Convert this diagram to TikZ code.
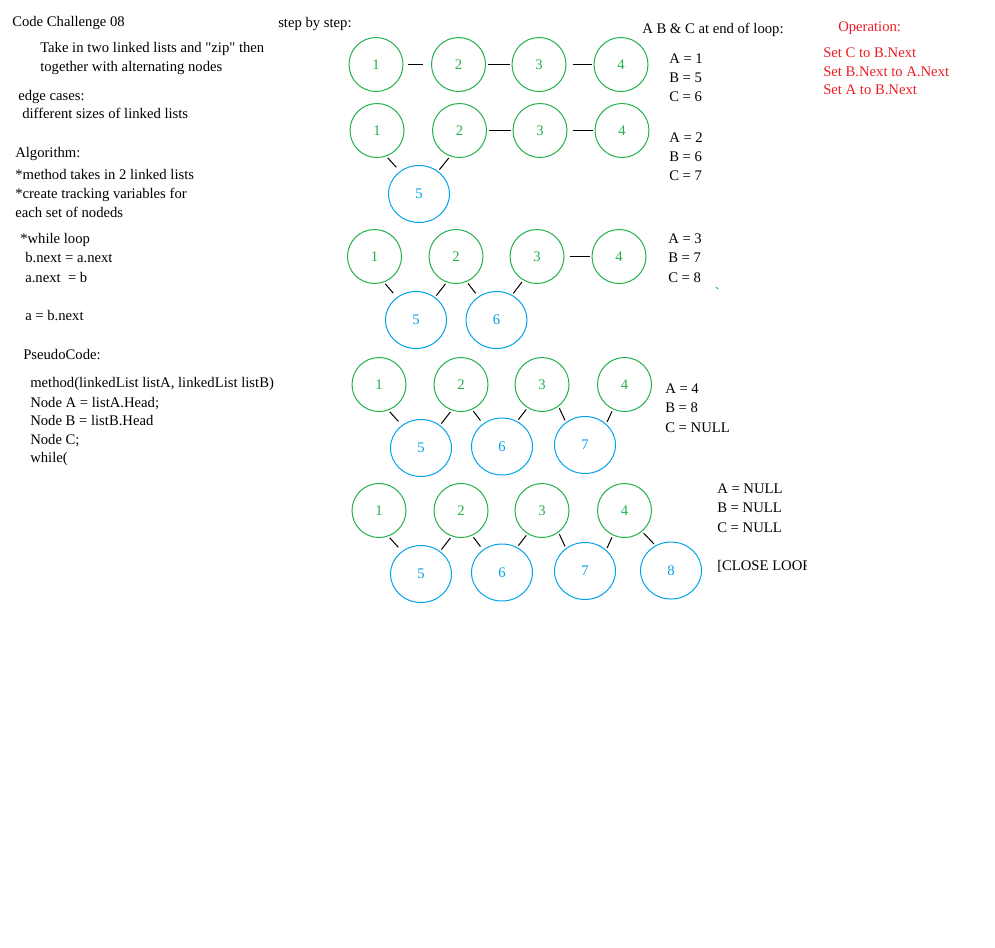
\documentclass[tikz,border=0pt]{standalone}
\usepackage{fontspec}
\setmainfont{Liberation Serif}[Ligatures=TeXOff]
\usetikzlibrary{shapes.geometric}
\definecolor{listgreen}{RGB}{34,177,76}
\definecolor{listblue}{RGB}{0,162,232}
\definecolor{opred}{RGB}{237,28,36}
\tikzset{
  anode/.style={circle, draw=listgreen, text=listgreen, minimum size=40.5pt, inner sep=0pt, line width=0.75pt},
  bnode/.style={ellipse, draw=listblue, text=listblue, minimum width=45.75pt, minimum height=42.75pt, inner sep=0pt, line width=0.75pt},
  link/.style={line width=0.75pt, shorten <=1.5pt, shorten >=1.5pt},
  note/.style={anchor=base west, inner sep=0pt},
  opnote/.style={note, text=opred},
}
\begin{document}
\begin{tikzpicture}[x=0.75pt, y=-0.75pt, font=\fontsize{11}{14.25}\selectfont]
  \useasboundingbox (0,0) rectangle (995,947);
  \fill[white] (0,0) rectangle (995,947);

  % notes on the left
  \node[note] (title) at (12,26) {Code Challenge 08};
  \node[note] (task1) at (40,52) {Take in two linked lists and "zip" then};
  \node[note] (task2) at (40,71) {together with alternating nodes};
  \node[note] (edge1) at (18,100) {edge cases:};
  \node[note] (edge2) at (22,118) {different sizes of linked lists};
  \node[note] (algo) at (15,157) {Algorithm:};
  \node[note] (algo1) at (15,179) {*method takes in 2 linked lists};
  \node[note] (algo2) at (15,198) {*create tracking variables for};
  \node[note] (algo3) at (15,217) {each set of nodeds};
  \node[note] (loop) at (20,243) {*while loop};
  \node[note] (loop1) at (25,262) {b.next = a.next};
  \node[note] (loop2) at (25,282) {a.next\ \ = b};
  \node[note] (loop3) at (25,320) {a = b.next};
  \node[note] (pseudo) at (23,359) {PseudoCode:};
  \node[note] (code1) at (30,387) {method(linkedList listA, linkedList listB)};
  \node[note] (code2) at (30,407) {Node A = listA.Head;};
  \node[note] (code3) at (30,425) {Node B = listB.Head};
  \node[note] (code4) at (30,444) {Node C;};
  \node[note] (code5) at (30,462) {while(};

  % headings
  \node[note] (steps) at (278,27) {step by step:};
  \node[note] (vars) at (642,33) {A B \& C at end of loop:};
  \node[opnote] (op) at (838,31) {Operation:};
  \node[opnote] (op1) at (823,57) {Set C to B.Next};
  \node[opnote] (op2) at (823,76) {Set B.Next to A.Next};
  \node[opnote] (op3) at (823,94) {Set A to B.Next};

  % step 1
  \node[anode] (r1n1) at (376,64.5) {1};
  \node[anode] (r1n2) at (458.5,64.5) {2};
  \node[anode] (r1n3) at (539,64.5) {3};
  \node[anode] (r1n4) at (621,64.5) {4};
  \draw[link, shorten <=3.5pt, shorten >=6pt] (r1n1) -- (r1n2);
  \draw[link] (r1n2) -- (r1n3);
  \draw[link, shorten <=4.5pt] (r1n3) -- (r1n4);
  \node[note] (v1a) at (669,63) {A = 1};
  \node[note] (v1b) at (669,82) {B = 5};
  \node[note] (v1c) at (669,101) {C = 6};

  % step 2
  \node[anode] (r2n1) at (377,130.5) {1};
  \node[anode] (r2n2) at (459.5,130.5) {2};
  \node[anode] (r2n3) at (540,130.5) {3};
  \node[anode] (r2n4) at (622,130.5) {4};
  \node[bnode] (r2n5) at (419,194) {5};
  \draw[link, shorten >=4pt] (r2n1.-70) -- (r2n5.130);
  \draw[link] (r2n2.-110) -- (r2n5.50);
  \draw[link] (r2n2) -- (r2n3);
  \draw[link, shorten <=4pt] (r2n3) -- (r2n4);
  \node[note] (v2a) at (669,142) {A = 2};
  \node[note] (v2b) at (669,161) {B = 6};
  \node[note] (v2c) at (669,180) {C = 7};

  % step 3
  \node[anode] (r3n1) at (374.5,256.5) {1};
  \node[anode] (r3n2) at (456,256.5) {2};
  \node[anode] (r3n3) at (537,256.5) {3};
  \node[anode] (r3n4) at (619,256.5) {4};
  \node[bnode] (r3n5) at (416,320) {5};
  \node[bnode] (r3n6) at (496.5,320) {6};
  \draw[link, shorten >=4pt] (r3n1.-70) -- (r3n5.130);
  \draw[link] (r3n2.-110) -- (r3n5.50);
  \draw[link, shorten >=3pt] (r3n2.-67) -- (r3n6.128);
  \draw[link] (r3n3.-120) -- (r3n6.58);
  \draw[link, shorten <=4pt] (r3n3) -- (r3n4);
  \node[note] (v3a) at (668,243) {A = 3};
  \node[note] (v3b) at (668,262) {B = 7};
  \node[note] (v3c) at (668,282) {C = 8};
  \draw[listblue, line width=0.75pt] (716,287) -- (718,289);

  % step 4
  \node[anode] (r4n1) at (379,384.5) {1};
  \node[anode] (r4n2) at (461,384.5) {2};
  \node[anode] (r4n3) at (542,384.5) {3};
  \node[anode] (r4n4) at (624.5,384.5) {4};
  \node[bnode] (r4n5) at (421,448) {5};
  \node[bnode] (r4n6) at (502,446.5) {6};
  \node[bnode] (r4n7) at (585,445) {7};
  \draw[link, shorten >=4pt] (r4n1.-70) -- (r4n5.130);
  \draw[link] (r4n2.-110) -- (r4n5.50);
  \draw[link, shorten >=3pt] (r4n2.-66) -- (r4n6.130);
  \draw[link] (r4n3.-122) -- (r4n6.59);
  \draw[link] (r4n3.-53) -- (r4n7.130);
  \draw[link] (r4n4.-115) -- (r4n7.45);
  \node[note] (v4a) at (665,393) {A = 4};
  \node[note] (v4b) at (665,412) {B = 8};
  \node[note] (v4c) at (665,432) {C = NULL};

  % step 5
  \node[anode] (r5n1) at (379,510.5) {1};
  \node[anode] (r5n2) at (461,510.5) {2};
  \node[anode] (r5n3) at (542,510.5) {3};
  \node[anode] (r5n4) at (624.5,510.5) {4};
  \node[bnode] (r5n5) at (421,574) {5};
  \node[bnode] (r5n6) at (502,572.5) {6};
  \node[bnode] (r5n7) at (585,571) {7};
  \node[bnode] (r5n8) at (671,570.5) {8};
  \draw[link, shorten >=4pt] (r5n1.-70) -- (r5n5.130);
  \draw[link] (r5n2.-110) -- (r5n5.50);
  \draw[link, shorten >=3pt] (r5n2.-66) -- (r5n6.130);
  \draw[link] (r5n3.-122) -- (r5n6.59);
  \draw[link] (r5n3.-53) -- (r5n7.130);
  \draw[link] (r5n4.-115) -- (r5n7.45);
  \draw[link] (r5n4.-50) -- (r5n8.122);
  \node[note] (v5a) at (717,493) {A = NULL};
  \node[note] (v5b) at (717,512) {B = NULL};
  \node[note] (v5c) at (717,532) {C = NULL};
  \begin{scope}
    \clip (700,550) rectangle (806,580);
    \node[note] (close) at (717,570) {[CLOSE LOOP};
  \end{scope}
\end{tikzpicture}
\end{document}
